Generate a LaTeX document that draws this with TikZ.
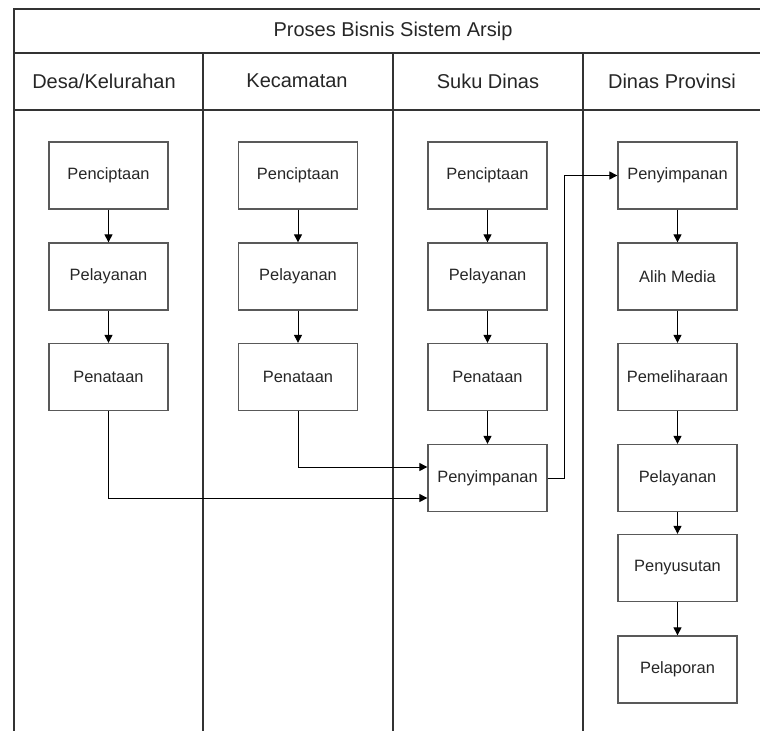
\documentclass[tikz,border=0pt]{standalone}
\usepackage{fontspec}
\setmainfont{Liberation Sans}
\usetikzlibrary{arrows.meta}
\begin{document}
\begin{tikzpicture}[x=1pt,y=-1pt,
  frame/.style={draw=black!80,line width=1.3pt},
  procbox/.style={draw=black!65,line width=1.3pt,minimum width=119pt,minimum height=67pt,inner sep=0pt,
     font=\fontsize{16.4}{18}\selectfont,text=black!85},
  headtxt/.style={font=\fontsize{20}{22}\selectfont,text=black!85,inner sep=0pt},
  arr/.style={draw=black,line width=1pt,-{Triangle[length=8pt,width=8pt]}}]
\useasboundingbox (0,0) rectangle (760,731);
\fill[white] (0,0) rectangle (760,731);
% frame
\draw[frame] (760,9) -- (14,9) -- (14,731);
\draw[frame] (14,53) -- (760,53);
\draw[frame] (14,110) -- (760,110);
\draw[frame] (203,53) -- (203,731);
\draw[frame] (393,53) -- (393,731);
\draw[frame] (583,53) -- (583,731);
% headers
\node[headtxt] (title) at (393,31) {Proses Bisnis Sistem Arsip};
\node[headtxt] (h1) at (104,81) {Desa/Kelurahan};
\node[headtxt] (h2) at (297,81) {Kecamatan};
\node[headtxt] (h3) at (488,81) {Suku Dinas};
\node[headtxt] (h4) at (672,81) {Dinas Provinsi};
% lane 1
\node[procbox] (d1) at (108.5,175.5) {Penciptaan};
\node[procbox] (d2) at (108.5,276.5) {Pelayanan};
\node[procbox] (d3) at (108.5,377) {Penataan};
% lane 2
\node[procbox] (k1) at (298,175.5) {Penciptaan};
\node[procbox] (k2) at (298,276.5) {Pelayanan};
\node[procbox] (k3) at (298,377) {Penataan};
% lane 3
\node[procbox] (s1) at (487.5,175.5) {Penciptaan};
\node[procbox] (s2) at (487.5,276.5) {Pelayanan};
\node[procbox] (s3) at (487.5,377) {Penataan};
\node[procbox] (s4) at (487.5,478) {Penyimpanan};
% lane 4
\node[procbox] (p1) at (677.5,175.5) {Penyimpanan};
\node[procbox] (p2) at (677.5,276.5) {Alih Media};
\node[procbox] (p3) at (677.5,377) {Pemeliharaan};
\node[procbox] (p4) at (677.5,478) {Pelayanan};
\node[procbox] (p5) at (677.5,568) {Penyusutan};
\node[procbox] (p6) at (677.5,669.5) {Pelaporan};
% arrows
\draw[arr] (d1) -- (d2);
\draw[arr] (d2) -- (d3);
\draw[arr] (k1) -- (k2);
\draw[arr] (k2) -- (k3);
\draw[arr] (s1) -- (s2);
\draw[arr] (s2) -- (s3);
\draw[arr] (s3) -- (s4);
\draw[arr] (p1) -- (p2);
\draw[arr] (p2) -- (p3);
\draw[arr] (p3) -- (p4);
\draw[arr] (p4) -- (p5);
\draw[arr] (p5) -- (p6);
\draw[arr] (d3.south) |- ([yshift=-20pt]s4.west);
\draw[arr] (k3.south) |- ([yshift=11pt]s4.west);
\draw[arr] (s4.east) -- ++(17,0) |- (p1.west);
\end{tikzpicture}
\end{document}
